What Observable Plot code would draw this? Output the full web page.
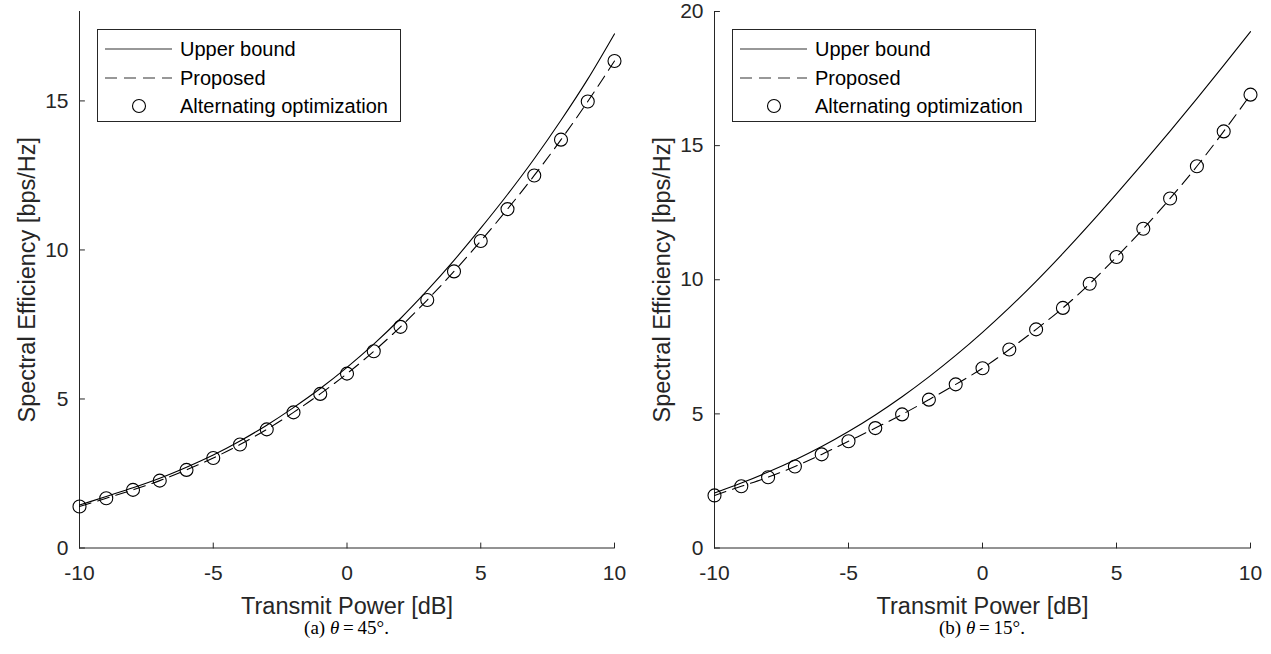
<!DOCTYPE html>
<html>
<head>
<meta charset="utf-8">
<script src="https://cdn.jsdelivr.net/npm/d3@7"></script>
<script src="https://cdn.jsdelivr.net/npm/@observablehq/plot@0.6"></script>
<style>
  html, body { margin: 0; padding: 0; background: #fff; }
  #page { position: relative; width: 1271px; height: 654px; overflow: hidden; font-family: "Liberation Sans", Arial, Helvetica, sans-serif; }
  .panel { position: absolute; top: 0; }
  .legend { position: absolute; border: 1px solid #262626; background: #fff; box-sizing: border-box; }
  .legend .item { position: absolute; left: 0; height: 28px; width: 100%; }
  .legend svg { position: absolute; left: 0; top: 0; overflow: visible; }
  .legend span { position: absolute; font-size: 20px; line-height: 28px; top: 0; color: #000; white-space: nowrap; }
  .cap { position: absolute; top: 618px; font-family: "Liberation Serif", "Times New Roman", serif; font-size: 19px; line-height: 20px; color: #000; transform: translateX(-50%); white-space: nowrap; }
  .cap .eq { margin: 0 0.2em; }
</style>
</head>
<body>
<div id="page"></div>
<script>
// ---------- data ----------
const powerDb = [-10, -9, -8, -7, -6, -5, -4, -3, -2, -1, 0, 1, 2, 3, 4, 5, 6, 7, 8, 9, 10];
const xTicks = [-10, -5, 0, 5, 10];
const yTicksA = [0, 5, 10, 15];
const yTicksB = [0, 5, 10, 15, 20];
const seriesNames = ["Upper bound", "Proposed", "Alternating optimization"];

// (a) theta = 45 deg
const upperA    = [1.44, 1.73, 2.02, 2.34, 2.71, 3.12, 3.59, 4.12, 4.71, 5.35, 6.06, 6.84, 7.70, 8.64, 9.65, 10.73, 11.86, 13.06, 14.35, 15.73, 17.25];
const proposedA = [1.39, 1.67, 1.95, 2.26, 2.62, 3.02, 3.47, 3.98, 4.55, 5.17, 5.85, 6.60, 7.42, 8.32, 9.28, 10.30, 11.37, 12.50, 13.70, 14.98, 16.34];
const altOptA   = [1.39, 1.67, 1.95, 2.26, 2.62, 3.02, 3.47, 3.98, 4.55, 5.17, 5.85, 6.60, 7.42, 8.32, 9.28, 10.30, 11.37, 12.50, 13.70, 14.98, 16.34];

// (b) theta = 15 deg
const upperB    = [2.05, 2.42, 2.83, 3.28, 3.78, 4.34, 4.96, 5.64, 6.38, 7.18, 8.04, 8.96, 9.94, 10.98, 12.07, 13.20, 14.36, 15.54, 16.75, 17.99, 19.25];
const proposedB = [1.96, 2.30, 2.64, 3.04, 3.49, 3.98, 4.47, 4.98, 5.53, 6.10, 6.70, 7.40, 8.15, 8.95, 9.85, 10.85, 11.90, 13.03, 14.23, 15.53, 16.90];
const altOptB   = [1.96, 2.30, 2.64, 3.04, 3.49, 3.98, 4.47, 4.98, 5.53, 6.10, 6.70, 7.40, 8.15, 8.95, 9.85, 10.85, 11.90, 13.03, 14.23, 15.53, 16.90];

const xLabel = "Transmit Power [dB]";
const yLabel = "Spectral Efficiency [bps/Hz]";

// ---------- drawing ----------
const page = document.getElementById("page");
const axisColor = "#262626";
const tickShape = {draw(context, l) { context.moveTo(0, 0); context.lineTo(0, -l); }};
const fmt = (d) => (d < 0 ? "-" + Math.abs(d) : String(d));

function panel({left, width, marginLeft, marginRight, yMax, yTicks, upper, proposed, alt, caption, legendLeft}) {
  const toRows = (vals) => powerDb.map((x, i) => ({x, y: vals[i]}));
  const height = 600;
  const marginTop = 11, marginBottom = 52.5;
  const chart = Plot.plot({
    width, height, marginLeft, marginRight, marginTop, marginBottom,
    x: {domain: [-10, 10]},
    y: {domain: [0, yMax]},
    style: {fontFamily: '"Liberation Sans", Arial, Helvetica, sans-serif', color: axisColor, background: "transparent", overflow: "visible"},
    marks: [
      // inward ticks
      Plot.vectorX(xTicks, {x: (d) => d, frameAnchor: "bottom", anchor: "start", length: 5, rotate: 0, shape: tickShape, stroke: axisColor, strokeWidth: 1}),
      Plot.vectorY(yTicks, {y: (d) => d, frameAnchor: "left", anchor: "start", length: 5, rotate: 90, shape: tickShape, stroke: axisColor, strokeWidth: 1}),
      // tick labels
      Plot.axisX(xTicks, {tickSize: 0, tickPadding: 17.5, fontSize: 21, fill: axisColor, tickFormat: fmt, label: null}),
      Plot.axisY(yTicks, {tickSize: 0, tickPadding: 11, fontSize: 21, fill: axisColor, tickFormat: fmt, label: null}),
      // axis lines
      Plot.ruleY([0], {stroke: axisColor, strokeWidth: 1}),
      Plot.ruleX([-10], {stroke: axisColor, strokeWidth: 1}),
      // axis titles
      Plot.text([xLabel], {frameAnchor: "bottom", textAnchor: "middle", lineAnchor: "top", dy: 49.8, fontSize: 23.5, fill: axisColor}),
      Plot.text([yLabel], {frameAnchor: "left", textAnchor: "middle", lineAnchor: "top", rotate: -90, dx: -60.7, fontSize: 23.5, fill: axisColor}),
      // series
      Plot.line(toRows(upper), {x: "x", y: "y", stroke: "#000", strokeWidth: 1.1, curve: "monotone-x"}),
      Plot.line(toRows(proposed), {x: "x", y: "y", stroke: "#000", strokeWidth: 1.1, strokeDasharray: "12,7", curve: "monotone-x"}),
      Plot.dot(toRows(alt), {x: "x", y: "y", r: 6.5, stroke: "#000", strokeWidth: 1.1, fill: "none"})
    ]
  });
  const wrap = document.createElement("div");
  wrap.className = "panel";
  wrap.style.left = left + "px";
  wrap.appendChild(chart);
  page.appendChild(wrap);

  // legend
  const lg = document.createElement("div");
  lg.className = "legend";
  lg.style.left = legendLeft + "px";
  lg.style.top = "29px";
  lg.style.width = "304px";
  lg.style.height = "93px";
  const rowsY = [5, 34, 62];
  seriesNames.forEach((name, i) => {
    const it = document.createElement("div");
    it.className = "item";
    it.style.top = rowsY[i] + "px";
    let sym;
    if (i === 0) sym = `<line x1="7" x2="74" y1="14" y2="14" stroke="#333" stroke-width="1.1"/>`;
    else if (i === 1) sym = `<line x1="7" x2="74" y1="14" y2="14" stroke="#333" stroke-width="1.1" stroke-dasharray="12,7"/>`;
    else sym = `<circle cx="41" cy="14" r="6.5" fill="none" stroke="#000" stroke-width="1.1"/>`;
    it.innerHTML = `<svg width="80" height="28">${sym}</svg><span style="left:82px">${name}</span>`;
    lg.appendChild(it);
  });
  page.appendChild(lg);

  // caption
  const cap = document.createElement("div");
  cap.className = "cap";
  cap.style.left = (left + marginLeft + (width - marginLeft - marginRight) / 2) + "px";
  cap.innerHTML = caption;
  page.appendChild(cap);
}

panel({left: 0, width: 640, marginLeft: 79, marginRight: 26, yMax: 18, yTicks: yTicksA,
       upper: upperA, proposed: proposedA, alt: altOptA,
       caption: "(a) <i>θ</i><span class=\"eq\">=</span>45°.", legendLeft: 97});
panel({left: 635, width: 636, marginLeft: 79, marginRight: 21, yMax: 20, yTicks: yTicksB,
       upper: upperB, proposed: proposedB, alt: altOptB,
       caption: "(b) <i>θ</i><span class=\"eq\">=</span>15°.", legendLeft: 732});
</script>
</body>
</html>
